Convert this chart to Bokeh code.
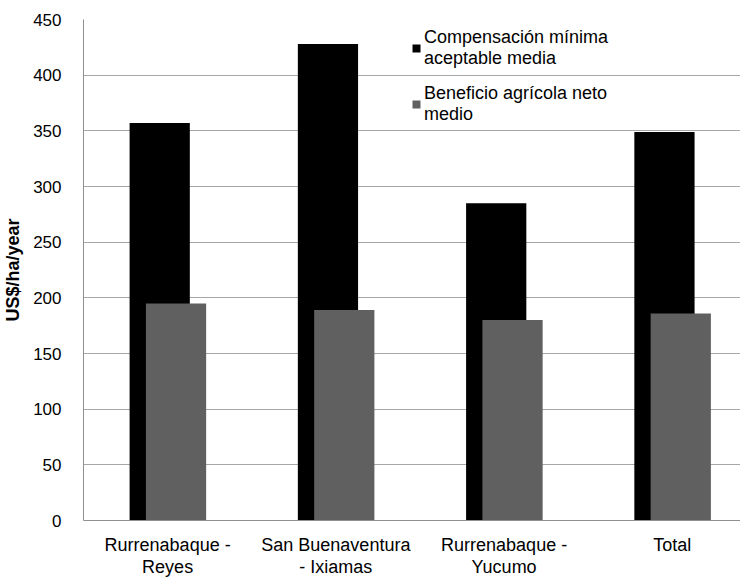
from bokeh.plotting import figure
from bokeh.models import Range1d, FixedTicker, Legend, LegendItem
from bokeh.embed import file_html
from bokeh.resources import INLINE

categories = ["Rurrenabaque -\nReyes", "San Buenaventura\n- Ixiamas", "Rurrenabaque -\nYucumo", "Total"]
compensacion = [357, 428, 285, 349]
beneficio = [195, 189, 180, 186]
series_names = ["Compensación mínima\naceptable media", "Beneficio agrícola neto\nmedio"]
y_ticks = [0, 50, 100, 150, 200, 250, 300, 350, 400, 450]
y_label = "US$/ha/year"

FONT = "Liberation Sans"
pos = [i + 0.5 for i in range(len(categories))]
x_black = [p - 0.047 for p in pos]
x_gray = [p + 0.05 for p in pos]
bar_w = 0.358

p = figure(width=740, height=579, output_backend="svg", toolbar_location=None,
           x_range=Range1d(0, 3.905), y_range=Range1d(0, 450),
           min_border_left=80, min_border_right=0, min_border_top=19, min_border_bottom=40)
p.outline_line_color = None
p.background_fill_color = "white"

r1 = p.vbar(x=x_black, top=compensacion, width=bar_w, bottom=0, fill_color="black", line_color=None)
r2 = p.vbar(x=x_gray, top=beneficio, width=bar_w, bottom=0, fill_color="#606060", line_color=None)

p.xgrid.visible = False
p.ygrid.grid_line_color = "#a6a6a6"
p.ygrid.ticker = FixedTicker(ticks=y_ticks)

p.yaxis.ticker = FixedTicker(ticks=y_ticks)
p.yaxis.major_tick_line_color = None
p.yaxis.minor_tick_line_color = None
p.yaxis.axis_line_color = "#909090"
p.yaxis.major_label_text_font = FONT
p.yaxis.major_label_text_font_size = "17px"
p.yaxis.major_label_text_color = "black"
p.yaxis.major_label_standoff = 16
p.yaxis.axis_label = y_label
p.yaxis.axis_label_text_font = FONT
p.yaxis.axis_label_text_font_size = "18px"
p.yaxis.axis_label_text_font_style = "bold"
p.yaxis.axis_label_text_color = "black"
p.yaxis.axis_label_standoff = 7

p.xaxis.ticker = FixedTicker(ticks=pos)
p.xaxis.major_label_overrides = {pv: c for pv, c in zip(pos, categories)}
p.xaxis.major_tick_line_color = None
p.xaxis.minor_tick_line_color = None
p.xaxis.axis_line_color = "#909090"
p.xaxis.major_label_text_font = FONT
p.xaxis.major_label_text_font_size = "18px"
p.xaxis.major_label_text_line_height = 1.1
p.xaxis.major_label_text_color = "black"
p.xaxis.major_label_standoff = 8

legend = Legend(items=[LegendItem(label=series_names[0], renderers=[r1]),
                       LegendItem(label=series_names[1], renderers=[r2])],
                location=(328, 395), background_fill_alpha=0, border_line_color=None,
                label_text_font=FONT, label_text_font_size="18px", label_text_color="black",
                label_text_line_height=1.2,
                glyph_width=10, glyph_height=10, padding=0, margin=0, spacing=14,
                label_standoff=3)
p.add_layout(legend)

open("out.html", "w").write(file_html(p, INLINE))
